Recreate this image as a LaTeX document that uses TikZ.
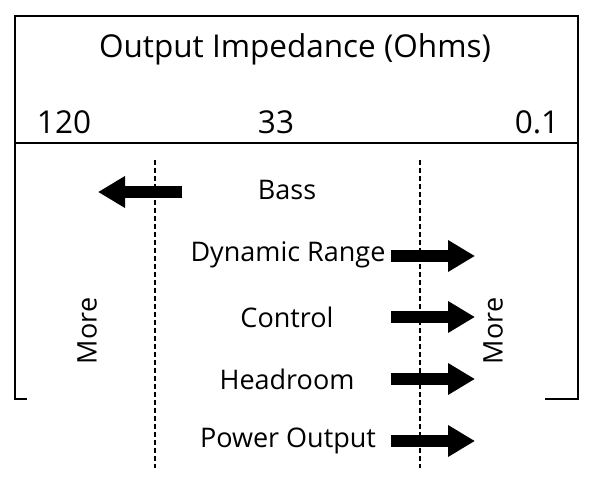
\documentclass[tikz,border=0pt]{standalone}
\usepackage{fontspec}
\setmainfont{Open Sans}
\usetikzlibrary{arrows.meta}
\begin{document}
\begin{tikzpicture}[x=1pt,y=-1pt,
  frameline/.style={line width=2.2pt, line cap=rect},
  dashline/.style={line width=2.4pt, dash pattern=on 5pt off 3pt},
  bigarrow/.style={line width=12pt, -{Triangle[length=27pt,width=30pt]}},
  head/.style={font=\fontsize{31.5}{36}\selectfont, inner sep=0pt},
  lbl/.style={font=\fontsize{27}{31}\selectfont, inner sep=0pt}]
\useasboundingbox (0,0) rectangle (592,486);
% frame
\draw[frameline] (26,399) -- (15,399) -- (15,16) -- (578,16) -- (578,399) -- (546,399);
\draw[frameline] (15,143) -- (578,143);
% header texts
\node[head] (title) at (295,49) {Output Impedance (Ohms)};
\node[head] (n120) at (64,122) {120};
\node[head] (n33) at (276,122) {33};
\node[head] (n01) at (537,122) {0.1};
% dashed lines
\coordinate (d1t) at (155,160); \coordinate (d1b) at (155,468);
\coordinate (d2t) at (420,160); \coordinate (d2b) at (420,468);
\draw[dashline] (d1t) -- (d1b);
\draw[dashline] (d2t) -- (d2b);
% labels
\node[lbl] (bass) at (287,190) {Bass};
\node[lbl] (dyn) at (288,255) {Dynamic Range};
\node[lbl] (ctrl) at (287,317) {Control};
\node[lbl] (head) at (287,379) {Headroom};
\node[lbl] (pow) at (288,441) {Power Output};
\node[lbl, rotate=90] (moreL) at (87,331) {More};
\node[lbl, rotate=90] (moreR) at (493,331) {More};
% arrows
\coordinate (bassS) at (182,192); \coordinate (bassE) at (98,192);
\draw[bigarrow] (bassS) -- (bassE);
\foreach \n/\y in {a/256,b/317,c/379,d/441}{
  \coordinate (s\n) at (391,\y); \coordinate (e\n) at (475,\y);
  \draw[bigarrow] (s\n) -- (e\n);
}
\end{tikzpicture}
\end{document}
